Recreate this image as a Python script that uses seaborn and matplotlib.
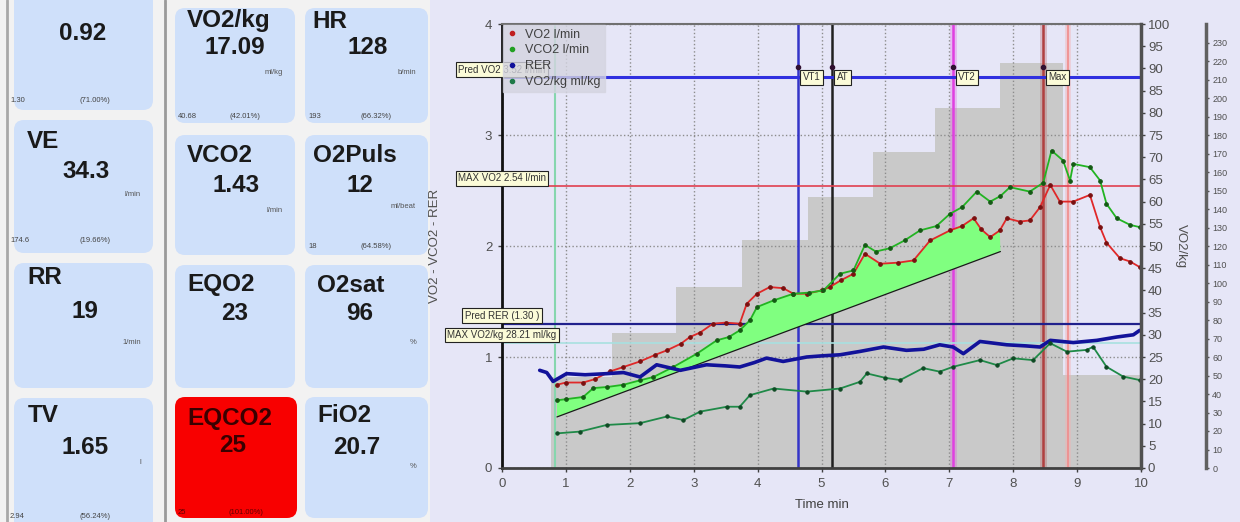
import matplotlib
matplotlib.use("Agg")
import matplotlib.pyplot as plt
from matplotlib.patches import FancyBboxPatch, Rectangle
from matplotlib.lines import Line2D
import seaborn as sns

# ---- dashboard tiles ----
tile_titles = ["RER", "VE", "RR", "TV", "VO2/kg", "VCO2", "EQO2", "EQCO2",
               "HR", "O2Puls", "O2sat", "FiO2"]
tile_values = ["0.92", "34.3", "19", "1.65", "17.09", "1.43", "23", "25",
               "128", "12", "96", "20.7"]
tile_units = ["", "l/min", "1/min", "l", "ml/kg", "l/min", "", "",
              "b/min", "ml/beat", "%", "%"]
tile_pred = ["1.30", "174.6", "", "2.94", "40.68", "", "", "25",
             "193", "18", "", ""]
tile_pct = ["(71.00%)", "(19.66%)", "", "(56.24%)", "(42.01%)", "", "", "(101.00%)",
            "(66.32%)", "(64.58%)", "", ""]
tile_alarm = ["EQCO2"]

# ---- exercise test curves, time in min ----
vo2_t = [0.86, 1.0, 1.27, 1.45, 1.69, 1.9, 2.16, 2.4, 2.58, 2.8, 2.94, 3.1, 3.3, 3.5,
         3.72, 3.83, 3.99, 4.19, 4.4, 4.56, 4.77, 5.0, 5.13, 5.3, 5.5, 5.68, 5.92, 6.2,
         6.44, 6.7, 7.01, 7.2, 7.38, 7.5, 7.64, 7.79, 7.9, 8.1, 8.26, 8.42, 8.58, 8.73,
         8.94, 9.2, 9.36, 9.46, 9.67, 9.83, 9.98]
vo2 = [0.75, 0.77, 0.77, 0.80, 0.87, 0.91, 0.96, 1.02, 1.06, 1.12, 1.18, 1.22, 1.30, 1.31,
       1.30, 1.48, 1.57, 1.63, 1.62, 1.57, 1.57, 1.60, 1.63, 1.69, 1.75, 1.93, 1.84, 1.85,
       1.87, 2.05, 2.14, 2.18, 2.25, 2.15, 2.08, 2.14, 2.25, 2.22, 2.23, 2.35, 2.55, 2.40,
       2.40, 2.46, 2.17, 2.03, 1.89, 1.86, 1.81]

vco2_t = [0.86, 1.0, 1.27, 1.43, 1.65, 1.9, 2.16, 2.37, 2.68, 3.05, 3.36, 3.55, 3.72, 3.88,
          3.99, 4.25, 4.56, 4.8, 5.03, 5.29, 5.5, 5.68, 5.85, 6.07, 6.3, 6.54, 6.8, 7.01,
          7.2, 7.43, 7.64, 7.8, 7.95, 8.26, 8.47, 8.6, 8.78, 8.89, 8.94, 9.2, 9.36, 9.46,
          9.62, 9.83, 9.98]
vco2 = [0.61, 0.62, 0.64, 0.72, 0.73, 0.75, 0.79, 0.82, 0.91, 1.03, 1.15, 1.18, 1.24, 1.33,
        1.45, 1.51, 1.57, 1.58, 1.60, 1.75, 1.78, 2.01, 1.95, 1.98, 2.05, 2.14, 2.18, 2.29,
        2.35, 2.49, 2.40, 2.45, 2.53, 2.49, 2.57, 2.86, 2.77, 2.59, 2.74, 2.71, 2.59, 2.38,
        2.25, 2.19, 2.17]

rer_t = [0.59, 0.7, 0.8, 1.01, 1.3, 1.64, 1.9, 2.16, 2.42, 2.79, 3.2, 3.5, 3.72, 3.95,
         4.14, 4.4, 4.77, 5.0, 5.29, 5.6, 5.97, 6.33, 6.6, 6.85, 7.06, 7.22, 7.48, 7.9,
         8.2, 8.42, 8.58, 8.94, 9.31, 9.62, 9.88, 9.98]
rer = [0.88, 0.86, 0.78, 0.85, 0.84, 0.85, 0.86, 0.82, 0.93, 0.88, 0.93, 0.92, 0.91, 0.95,
       0.99, 0.96, 1.00, 1.01, 1.02, 1.05, 1.09, 1.06, 1.07, 1.11, 1.09, 1.03, 1.14, 1.11,
       1.10, 1.09, 1.15, 1.13, 1.15, 1.18, 1.20, 1.24]

vo2kg_t = [0.86, 1.22, 1.64, 2.16, 2.58, 2.84, 3.10, 3.52, 3.72, 3.88, 4.25, 4.77, 5.29,
           5.6, 5.71, 6.0, 6.23, 6.59, 6.85, 7.06, 7.48, 7.74, 8.0, 8.31, 8.58, 8.84, 9.15,
           9.25, 9.46, 9.72, 9.98]
vo2kg = [7.8, 8.2, 9.7, 10.1, 11.6, 10.8, 12.7, 13.8, 13.8, 16.4, 17.9, 17.2, 17.9,
         19.4, 21.3, 20.3, 19.8, 22.5, 21.7, 22.8, 24.3, 23.2, 24.7, 24.3, 28.1, 26.2, 26.6,
         27.3, 22.8, 20.6, 19.8]

# load steps (grey background), in left-axis units
step_t = [0.76, 1.72, 2.73, 3.76, 4.79, 5.8, 6.78, 7.8, 8.78, 10.0]
step_h = [0.82, 1.22, 1.63, 2.05, 2.44, 2.85, 3.24, 3.65, 0.84, 0.84]

# linear reference below the gas curves
reg_t = [0.86, 7.8]
reg_v = [0.46, 1.95]
band_split = 4.56  # VCO2 bounds the band before this time, VO2 after

# threshold markers
marker_t = [4.63, 5.16, 7.06, 8.47]
marker_labels = ["VT1", "AT", "VT2", "Max"]
marker_colors = ["#3434c8", "#202020", "#e040e0", "#b04040"]
start_t = 0.83
end_t = 8.86

# horizontal references
ref_v = [3.52, 2.54, 1.30, 1.128]
ref_labels = ["Pred VO2 3.52 l/min", "MAX VO2 2.54 l/min", "Pred RER (1.30 )",
              "MAX VO2/kg 28.21 ml/kg"]
ref_colors = ["#3030e0", "#e04050", "#20208c", "#a8e0e0"]
ref_widths = [2.2, 1.2, 1.6, 1.2]

LAVENDER = "#e6e6f7"
TILE = "#cfe0fa"

sns.set_theme(style="white")
plt.rcParams["font.family"] = ["Liberation Sans", "DejaVu Sans"]

fig = plt.figure(figsize=(12.4, 5.22), dpi=100)
fig.patch.set_facecolor("#f2f2f2")

# dashboard in pixel coordinates
bg = fig.add_axes([0, 0, 1, 1])
bg.set_xlim(0, 1240)
bg.set_ylim(522, 0)
bg.axis("off")
bg.add_patch(Rectangle((430, 0), 810, 522, color=LAVENDER, lw=0))
bg.plot([7, 7], [0, 522], color="#a8a8a8", lw=2)
bg.plot([165, 165], [0, 522], color="#9a9a9a", lw=2)

# box, title xy, value xy, unit y, bottom y
tile_layout = [
    ((14, -20, 153, 110), (27, -6), (83, 33), 0, 100),
    ((14, 120, 153, 253), (27, 142), (86, 172), 195, 241),
    ((14, 263, 153, 388), (27, 278), (85, 312), 342, 0),
    ((14, 398, 153, 532), (28, 415), (85, 447), 463, 517),
    ((175, 8, 295, 123), (187, 21), (235, 47), 72, 117),
    ((175, 135, 295, 255), (187, 156), (236, 186), 210, 0),
    ((175, 265, 295, 388), (187, 285), (235, 313), 0, 0),
    ((175, 397, 297, 518), (187, 418), (233, 445), 0, 512),
    ((305, 8, 428, 123), (312, 21), (368, 47), 72, 117),
    ((305, 135, 428, 255), (313, 156), (360, 186), 207, 246),
    ((305, 265, 428, 388), (317, 285), (360, 313), 343, 0),
    ((305, 397, 428, 518), (317, 415), (357, 447), 467, 0),
]

for i, (box, t_xy, v_xy, unit_y, bot_y) in enumerate(tile_layout):
    x0, y0, x1, y1 = box
    alarm = tile_titles[i] in tile_alarm
    face = "#f80000" if alarm else TILE
    bg.add_patch(FancyBboxPatch((x0, y0), x1 - x0, y1 - y0,
                                boxstyle="round,pad=0,rounding_size=10",
                                fc=face, ec="none"))
    txt_col = "#3a0000" if alarm else "#1a1a1a"
    bg.text(t_xy[0], t_xy[1], tile_titles[i], fontsize=17.5, fontweight="bold",
            color=txt_col, ha="left", va="center")
    bg.text(v_xy[0], v_xy[1], tile_values[i], fontsize=17.5, fontweight="bold",
            color=txt_col, ha="center", va="center")
    if tile_units[i]:
        bg.text(x1 - 12, unit_y, tile_units[i], fontsize=5.5, color="#555555",
                ha="right", va="center")
    if tile_pred[i]:
        small_col = "#600000" if alarm else "#444444"
        bg.text(x0 - 4 if x0 < 20 else x0 + 3, bot_y, tile_pred[i], fontsize=5.5,
                color=small_col, ha="left", va="center")
        bg.text(x0 + 0.58 * (x1 - x0), bot_y, tile_pct[i], fontsize=5.5,
                color=small_col, ha="center", va="center")

# ---- chart ----
ax = fig.add_axes([502 / 1240, 1 - 468 / 522, 639 / 1240, 444 / 522])
ax.set_facecolor(LAVENDER)
ax.set_xlim(0, 10)
ax.set_ylim(0, 4)
ax.set_axisbelow(True)
ax.grid(True, ls=":", color="#8c8c8c", lw=1)
ax.set_xticks(range(0, 11))
ax.set_yticks(range(0, 5))

ax.fill_between(step_t, step_h, step="post", color="#c9c9c9", lw=0, zorder=0.2)

# vertical event lines
ax.axvline(start_t, color="#86d6ae", lw=1.5, zorder=1)
ax.axvline(end_t, color="#f4b0b0", lw=4, alpha=0.5, zorder=1)
ax.axvline(end_t, color="#f08c8c", lw=1.2, zorder=1)
for t, c in zip(marker_t, marker_colors):
    if c in ("#e040e0", "#b04040"):
        ax.axvline(t, color=c, lw=5, alpha=0.25, zorder=1)
    ax.axvline(t, color=c, lw=1.8, zorder=1.1)

# horizontal references
for v, c, w in zip(ref_v, ref_colors, ref_widths):
    ax.axhline(v, color=c, lw=w, zorder=1.2)

# band between reference line and gas curves
band_t = [t for t in vco2_t if t <= band_split] + [t for t in vo2_t if band_split < t <= reg_t[1]]
band_v = [v for t, v in zip(vco2_t, vco2) if t <= band_split] + \
         [v for t, v in zip(vo2_t, vo2) if band_split < t <= reg_t[1]]
ax.fill(band_t + reg_t[::-1], band_v + reg_v[::-1], color="#80ff80", lw=0, zorder=1.5)
ax.plot(reg_t, reg_v, color="#1a1a1a", lw=0.9, zorder=1.6)

sns.lineplot(x=vo2_t, y=vo2, ax=ax, color="#e02828", lw=1.3, marker="o", markersize=2.6,
             markerfacecolor="#7a1010", markeredgecolor="#7a1010", legend=False, zorder=3)
sns.lineplot(x=vco2_t, y=vco2, ax=ax, color="#22b422", lw=1.3, marker="o", markersize=2.6,
             markerfacecolor="#145a14", markeredgecolor="#145a14", legend=False, zorder=3)
sns.lineplot(x=rer_t, y=rer, ax=ax, color="#12129a", lw=2.6, legend=False, zorder=3)

# event markers at top
ax.plot(marker_t, [3.61] * len(marker_t), "o", ms=3, color="#301030", zorder=4)
for t, lab in zip(marker_t, marker_labels):
    ax.annotate(lab, xy=(t, 3.52), xytext=(3.5, 0), textcoords="offset points",
                ha="left", va="center", fontsize=7, color="#333333", zorder=5,
                bbox=dict(boxstyle="square,pad=0.25", fc="#fbfbd8", ec="#222222", lw=0.8))

for v, lab in zip(ref_v, ref_labels):
    ax.annotate(lab, xy=(0, v), xytext=(0, 2), textcoords="offset points",
                ha="center", va="bottom", fontsize=7, color="#333333", zorder=6,
                annotation_clip=False,
                bbox=dict(boxstyle="square,pad=0.25", fc="#fbfbd8", ec="#222222", lw=0.8))

for side, col, w in [("left", "#111111", 2), ("bottom", "#404040", 2),
                     ("top", "#707070", 1.5)]:
    ax.spines[side].set_color(col)
    ax.spines[side].set_linewidth(w)
ax.spines["right"].set_visible(False)
ax.tick_params(axis="both", which="both", bottom=True, left=True, length=3, width=1,
               color="#404040", labelsize=9.5, labelcolor="#505050", pad=4)
ax.set_xlabel("Time min", fontsize=9.5, color="#404040")
ax.xaxis.set_label_coords(0.5, -0.07)
ax.set_ylabel("VO2 - VCO2 - RER", fontsize=9.5, color="#505050")
ax.yaxis.set_label_coords(-0.095, 0.5)

# VO2/kg axis
ax2 = ax.twinx()
ax2.set_ylim(0, 100)
ax2.set_yticks(range(0, 101, 5))
sns.lineplot(x=vo2kg_t, y=vo2kg, ax=ax2, color="#1f8a48", lw=1.3, marker="o", markersize=2.4,
             markerfacecolor="#0f4a24", markeredgecolor="#0f4a24", legend=False)
ax2.grid(False)
for side in ["left", "top", "bottom"]:
    ax2.spines[side].set_visible(False)
ax2.spines["right"].set_color("#505050")
ax2.spines["right"].set_linewidth(2.5)
ax2.tick_params(axis="y", right=True, length=3, width=1, color="#404040",
                labelsize=9.5, labelcolor="#505050", pad=2)
ax2.set_ylabel("VO2/kg", fontsize=9.5, color="#505050", rotation=270)
ax2.yaxis.set_label_coords(1.072, 0.5)

# HR axis at the far right
ax3 = ax.twinx()
ax3.set_ylim(0, 240)
ax3.set_yticks(range(0, 240, 10))
ax3.grid(False)
for side in ["left", "top", "bottom"]:
    ax3.spines[side].set_visible(False)
ax3.spines["right"].set_position(("axes", 1 + 65 / 639))
ax3.spines["right"].set_color("#606060")
ax3.spines["right"].set_linewidth(2.5)
ax3.tick_params(axis="y", right=True, length=2.5, width=1, color="#505050",
                labelsize=6.5, labelcolor="#505050", pad=2)

handles = [Line2D([], [], ls="none", marker="o", ms=3, color=c)
           for c in ["#c02020", "#22a022", "#12129a", "#1f7a48"]]
leg = ax3.legend(handles, ["VO2 l/min", "VCO2 l/min", "RER", "VO2/kg ml/kg"],
                 loc="upper left", bbox_to_anchor=(0.0015, 0.998), borderaxespad=0,
                 fontsize=9, frameon=True, fancybox=False, framealpha=0.8,
                 facecolor="#d4d4e0", edgecolor="#d4d4e0", handlelength=0.8,
                 handletextpad=0.7, labelspacing=0.3, borderpad=0.3)
for t in leg.get_texts():
    t.set_color("#404040")

fig.savefig("out.png", dpi=100, facecolor=fig.get_facecolor())
